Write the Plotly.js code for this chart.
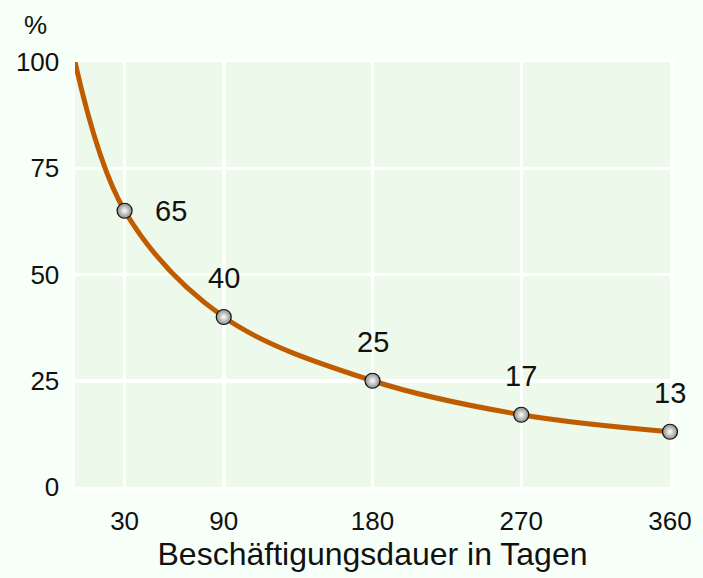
<!DOCTYPE html>
<html><head><meta charset="utf-8">
<script src="https://cdn.plot.ly/plotly-3.0.1.min.js"></script>
<style>html,body{margin:0;padding:0;background:#f7fff9;}</style>
</head><body>
<div id="chart" style="width:703px;height:578px;"></div>
<script>
const curveDays = [0, 30, 90, 180, 270, 360];
const curveShare = [100, 65, 40, 25, 17, 13];
const pointDays = [30, 90, 180, 270, 360];
const pointShare = [65, 40, 25, 17, 13];
const xTicks = [30, 90, 180, 270, 360];
const yTicks = [0, 25, 50, 75, 100];
const xTitle = 'Beschäftigungsdauer in Tagen';
const yUnit = '%';

const font = 'Liberation Sans, Arial, sans-serif';

const traces = [
  {x: curveDays, y: curveShare, mode: 'lines', line: {color: '#c05c00', width: 5, shape: 'spline', smoothing: 1}, hoverinfo: 'skip', cliponaxis: false},
  {x: pointDays, y: pointShare, mode: 'markers', cliponaxis: false,
   marker: {size: 15, color: '#8c8c8c', gradient: {type: 'radial', color: '#ffffff'}, line: {color: '#111', width: 1.2}}}
];

const annotations = pointDays.map((d, i) => ({
  x: d, y: pointShare[i], xref: 'x', yref: 'y', text: String(pointShare[i]), showarrow: false,
  font: {family: font, size: 29, color: '#111'},
  xshift: i === 0 ? 46 : 0, yshift: i === 0 ? 0 : 39
}));
annotations.push({xref: 'paper', yref: 'paper', x: -0.067, y: 1.087, xanchor: 'center', yanchor: 'middle', text: yUnit, showarrow: false,
  font: {family: font, size: 26, color: '#111'}});

const layout = {
  width: 703, height: 578,
  margin: {l: 75, r: 33, t: 62, b: 91},
  paper_bgcolor: '#f7fff9', plot_bgcolor: '#edf9ea',
  showlegend: false,
  font: {family: font, size: 26, color: '#111'},
  xaxis: {range: [0, 360], tickvals: xTicks, ticktext: xTicks.map(String), showgrid: true, gridcolor: '#ffffff', gridwidth: 3.5,
    zeroline: false, showline: true, linecolor: '#ffffff', linewidth: 3.5, mirror: true, ticks: '', ticklabelstandoff: 8, layer: 'below traces',
    title: {text: xTitle, font: {family: font, size: 32, color: '#111'}, standoff: 6}},
  yaxis: {range: [0, 100], tickvals: yTicks, ticktext: yTicks.map(String), showgrid: true, gridcolor: '#ffffff', gridwidth: 3.5,
    zeroline: false, showline: true, linecolor: '#ffffff', linewidth: 3.5, mirror: true, ticks: '', ticklabelstandoff: 7, layer: 'below traces'},
  annotations: annotations
};
Plotly.newPlot('chart', traces, layout, {displayModeBar: false, staticPlot: true});
</script>
</body></html>
